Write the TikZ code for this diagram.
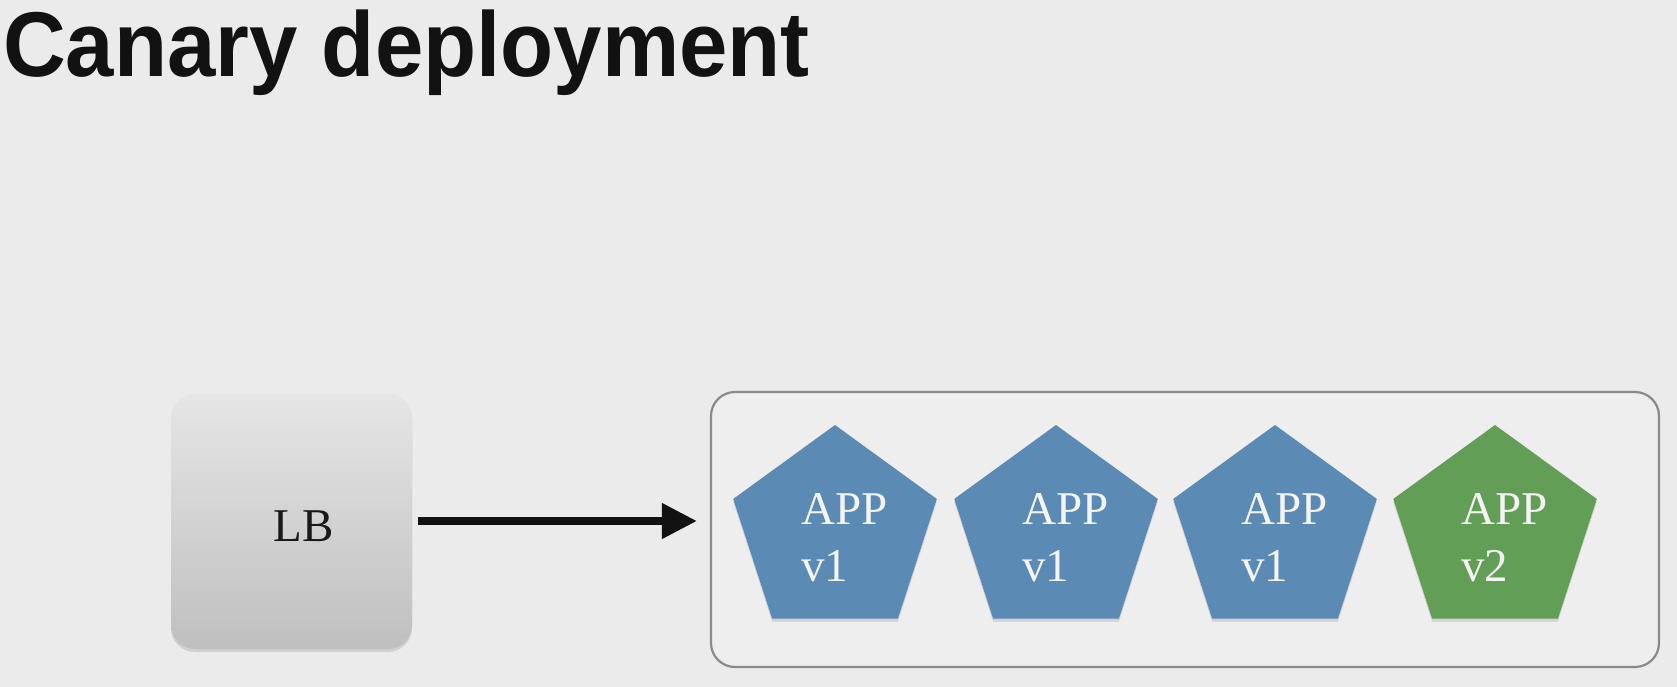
\documentclass[tikz,border=0pt]{standalone}
\usepackage{fontspec}
\setmainfont{Liberation Serif}
\newfontfamily\titlefont{Liberation Sans}
\usetikzlibrary{arrows.meta,shapes.geometric,shadows,calc}
\definecolor{bgc}{HTML}{EBEBEB}
\definecolor{poolfill}{HTML}{EEEEEE}
\definecolor{poolline}{HTML}{8A8A8A}
\definecolor{appblue}{RGB}{91,139,181}
\definecolor{appgreen}{RGB}{99,158,86}
\definecolor{apptxt}{HTML}{F4F4F4}
\tikzset{
  lbbox/.style={draw=none, rounded corners=24pt, top color=white!90!black, bottom color=white!75!black,
    minimum width=241pt, minimum height=255pt, inner sep=0pt,
    drop shadow={shadow xshift=0pt, shadow yshift=-3pt, opacity=0.25}},
  pool/.style={draw=poolline, line width=2.2pt, rounded corners=24pt, fill=poolfill,
    minimum width=948pt, minimum height=275pt, inner sep=0pt},
  app/.style={regular polygon, regular polygon sides=5, minimum size=214pt, inner sep=0pt,
    draw=none, drop shadow={shadow xshift=0pt, shadow yshift=-3pt, opacity=0.25}},
  apptext/.style={text=apptxt, font=\fontsize{47}{57}\selectfont, align=left, inner sep=0pt, anchor=north west},
  lbtext/.style={text=black!90, font=\fontsize{47}{57}\selectfont, inner sep=0pt},
  flow/.style={line width=7.5pt, draw=black!93, -{Triangle[length=35pt,width=34pt]}},
}
\begin{document}
\begin{tikzpicture}[x=1pt,y=-1pt]
\fill[bgc] (0,0) rectangle (1677,687);
\useasboundingbox (0,0) rectangle (1677,687);
\node[anchor=base west, inner sep=0pt, text=black!93, font=\titlefont\bfseries\fontsize{92}{100}\selectfont, xscale=0.945] (title) at (3,77) {Canary deployment};
\node[lbbox] (lb) at (291.5,521.5) {};
\node[lbtext] (lbl) at (304,526) {LB};
\node[pool] (pool) at (1185,529.5) {};
\node[app, fill=appblue] (a1) at (835,532) {};
\node[app, fill=appblue] (a2) at (1056,532) {};
\node[app, fill=appblue] (a3) at (1275,532) {};
\node[app, fill=appgreen] (a4) at (1495,532) {};
\node[apptext] (t1) at ($(a1)+(-34,-39)$) {APP\\v1};
\node[apptext] (t2) at ($(a2)+(-34,-39)$) {APP\\v1};
\node[apptext] (t3) at ($(a3)+(-34,-39)$) {APP\\v1};
\node[apptext] (t4) at ($(a4)+(-34,-39)$) {APP\\v2};
\draw[flow, shorten <=6pt, shorten >=13pt] (lb.east |- 0,521) -- (pool.west |- 0,521);
\end{tikzpicture}
\end{document}
